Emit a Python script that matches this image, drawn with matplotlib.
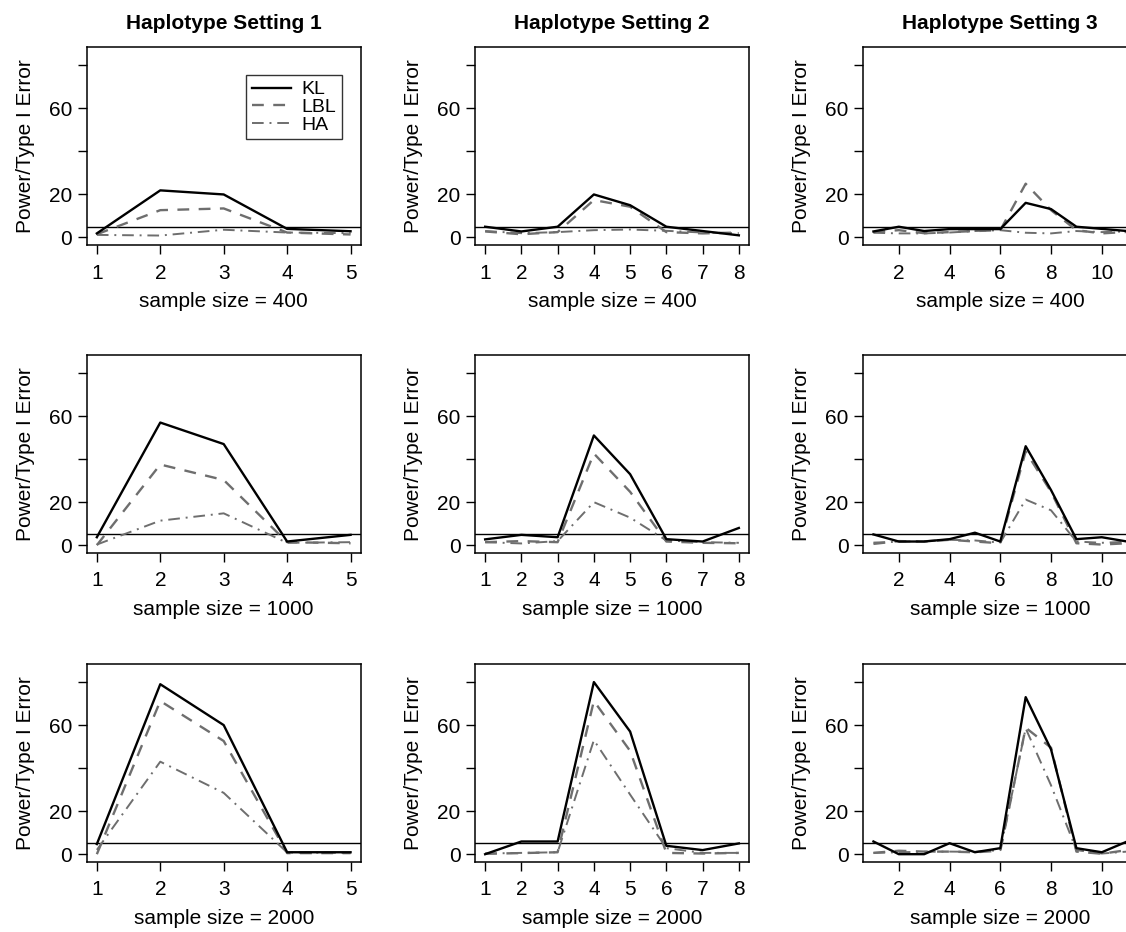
import numpy as np
import matplotlib
matplotlib.use("Agg")
import matplotlib.pyplot as plt

plt.rcParams['font.family'] = ['Liberation Sans', 'DejaVu Sans']

# ---- data (power / type I error, %) ----
x_s1 = [1, 2, 3, 4, 5]
x_s2 = [1, 2, 3, 4, 5, 6, 7, 8]
x_s3 = [1, 2, 3, 4, 5, 6, 7, 8, 9, 10, 11]

# Setting 1
kl_s1_400 = [1.9, 21.9, 20.0, 4.0, 2.9]
lbl_s1_400 = [1.5, 12.7, 13.5, 2.3, 1.4]
ha_s1_400 = [1.2, 0.9, 3.6, 2.3, 2.0]
kl_s1_1000 = [3.7, 57.0, 47.0, 1.7, 4.8]
lbl_s1_1000 = [0.0, 37.5, 30.3, 1.4, 0.9]
ha_s1_1000 = [0.3, 11.4, 14.8, 1.1, 1.4]
kl_s1_2000 = [4.7, 79.0, 60.0, 0.9, 0.9]
lbl_s1_2000 = [0.0, 71.2, 52.6, 0.5, 0.5]
ha_s1_2000 = [2.0, 43.0, 28.5, 0.8, 0.6]

# Setting 2
kl_s2_400 = [5.0, 2.8, 5.0, 20.0, 15.0, 5.0, 3.0, 1.0]
lbl_s2_400 = [2.8, 1.5, 2.5, 17.4, 14.3, 2.5, 1.9, 2.3]
ha_s2_400 = [3.0, 2.0, 2.5, 3.4, 3.7, 3.1, 2.3, 2.0]
kl_s2_1000 = [2.7, 4.8, 3.7, 51.0, 33.0, 2.8, 1.7, 8.0]
lbl_s2_1000 = [1.4, 1.9, 1.4, 42.6, 24.8, 1.7, 1.1, 0.9]
ha_s2_1000 = [1.4, 0.8, 1.9, 20.0, 12.8, 2.2, 1.4, 1.1]
kl_s2_2000 = [0.0, 5.9, 5.9, 80.0, 57.0, 3.9, 1.9, 5.0]
lbl_s2_2000 = [0.2, 0.5, 0.9, 71.2, 48.0, 0.6, 0.3, 0.6]
ha_s2_2000 = [0.3, 0.6, 0.9, 53.0, 27.7, 2.8, 0.6, 0.6]

# Setting 3
kl_s3_400 = [2.8, 5.0, 3.0, 3.9, 3.9, 3.9, 16.1, 13.2, 5.0, 4.0, 3.0]
lbl_s3_400 = [2.5, 3.4, 2.0, 2.5, 3.0, 3.4, 25.0, 12.7, 3.4, 1.9, 2.6]
ha_s3_400 = [2.2, 1.9, 1.9, 2.3, 3.0, 3.4, 2.2, 1.9, 3.0, 2.5, 2.8]
kl_s3_1000 = [5.0, 1.7, 1.7, 2.8, 5.8, 1.7, 46.0, 25.6, 2.8, 3.7, 1.7]
lbl_s3_1000 = [0.6, 1.9, 1.7, 2.5, 1.7, 0.9, 43.6, 24.8, 0.9, 0.3, 0.9]
ha_s3_1000 = [1.2, 1.6, 1.9, 2.5, 2.2, 1.2, 21.2, 16.2, 1.7, 1.1, 1.6]
kl_s3_2000 = [5.9, 0.0, 0.0, 5.1, 0.9, 2.8, 73.0, 48.7, 2.8, 0.9, 5.9]
lbl_s3_2000 = [0.6, 1.6, 1.2, 1.2, 0.9, 1.6, 58.8, 49.5, 1.2, 0.2, 1.9]
ha_s3_2000 = [0.6, 0.9, 1.1, 1.2, 1.1, 1.9, 58.5, 32.0, 1.9, 0.3, 1.2]

titles = ["Haplotype Setting 1", "Haplotype Setting 2", "Haplotype Setting 3"]
sample_sizes = [400, 1000, 2000]
y_ticks = [0, 20, 40, 60, 80]
y_ticklabels = ["0", "20", "", "60", ""]
x_ticks = [[1, 2, 3, 4, 5], [1, 2, 3, 4, 5, 6, 7, 8], [2, 4, 6, 8, 10]]
alpha_level = 5

xs = [x_s1, x_s2, x_s3]
data = {
    (0, 0): (kl_s1_400, lbl_s1_400, ha_s1_400),
    (1, 0): (kl_s1_1000, lbl_s1_1000, ha_s1_1000),
    (2, 0): (kl_s1_2000, lbl_s1_2000, ha_s1_2000),
    (0, 1): (kl_s2_400, lbl_s2_400, ha_s2_400),
    (1, 1): (kl_s2_1000, lbl_s2_1000, ha_s2_1000),
    (2, 1): (kl_s2_2000, lbl_s2_2000, ha_s2_2000),
    (0, 2): (kl_s3_400, lbl_s3_400, ha_s3_400),
    (1, 2): (kl_s3_1000, lbl_s3_1000, ha_s3_1000),
    (2, 2): (kl_s3_2000, lbl_s3_2000, ha_s3_2000),
}

W, H = 1126, 932
fig = plt.figure(figsize=(W / 100, H / 100), dpi=100)

col_left = [86.7, 475.0, 863.3]
row_top = [47.3, 355.0, 664.0]
aw, ah = 274.0, 197.5
gray = "#6e6e6e"
fs = 15

for r in range(3):
    for c in range(3):
        ax = fig.add_axes([col_left[c] / W, 1 - (row_top[r] + ah) / H, aw / W, ah / H])
        x = xs[c]
        kl, lbl, ha = data[(r, c)]
        ax.axhline(alpha_level, color="black", lw=1.0, zorder=1)
        ax.plot(x, lbl, color=gray, lw=1.7, linestyle=(0, (5, 4)), label="LBL", zorder=2)
        ax.plot(x, ha, color=gray, lw=1.4, linestyle=(0, (6, 3, 1, 3)), label="HA", zorder=2)
        ax.plot(x, kl, color="black", lw=1.7, linestyle="-", label="KL", zorder=3)
        span = x[-1] - x[0]
        ax.set_xlim(x[0] - 0.04 * span, x[-1] + 0.04 * span)
        ax.set_ylim(-3.4, 88.4)
        ax.set_yticks(y_ticks)
        ax.set_yticklabels(y_ticklabels)
        ax.set_xticks(x_ticks[c])
        ax.tick_params(axis="both", direction="out", length=6.5, width=1.0,
                       labelsize=fs, colors="black")
        ax.tick_params(axis="y", pad=4)
        ax.tick_params(axis="x", pad=7)
        for sp in ax.spines.values():
            sp.set_linewidth(1.1)
        ax.set_xlabel(f"sample size = {sample_sizes[r]}", fontsize=fs, labelpad=7)
        ax.set_ylabel("Power/Type I Error", fontsize=fs, labelpad=10)
        if r == 0:
            ax.set_title(titles[c], fontsize=fs, fontweight="bold", pad=13)
        if r == 0 and c == 0:
            handles, labels = ax.get_legend_handles_labels()
            order = [2, 0, 1]
            leg = ax.legend([handles[i] for i in order], [labels[i] for i in order],
                            loc="upper right", bbox_to_anchor=(0.93, 0.86),
                            fontsize=14, frameon=True, fancybox=False,
                            edgecolor="black", handlelength=2.0,
                            labelspacing=0.0, borderpad=0.3, handletextpad=0.5,
                            borderaxespad=0.0)
            leg.get_frame().set_linewidth(1.0)

fig.savefig("out.png", dpi=100)
